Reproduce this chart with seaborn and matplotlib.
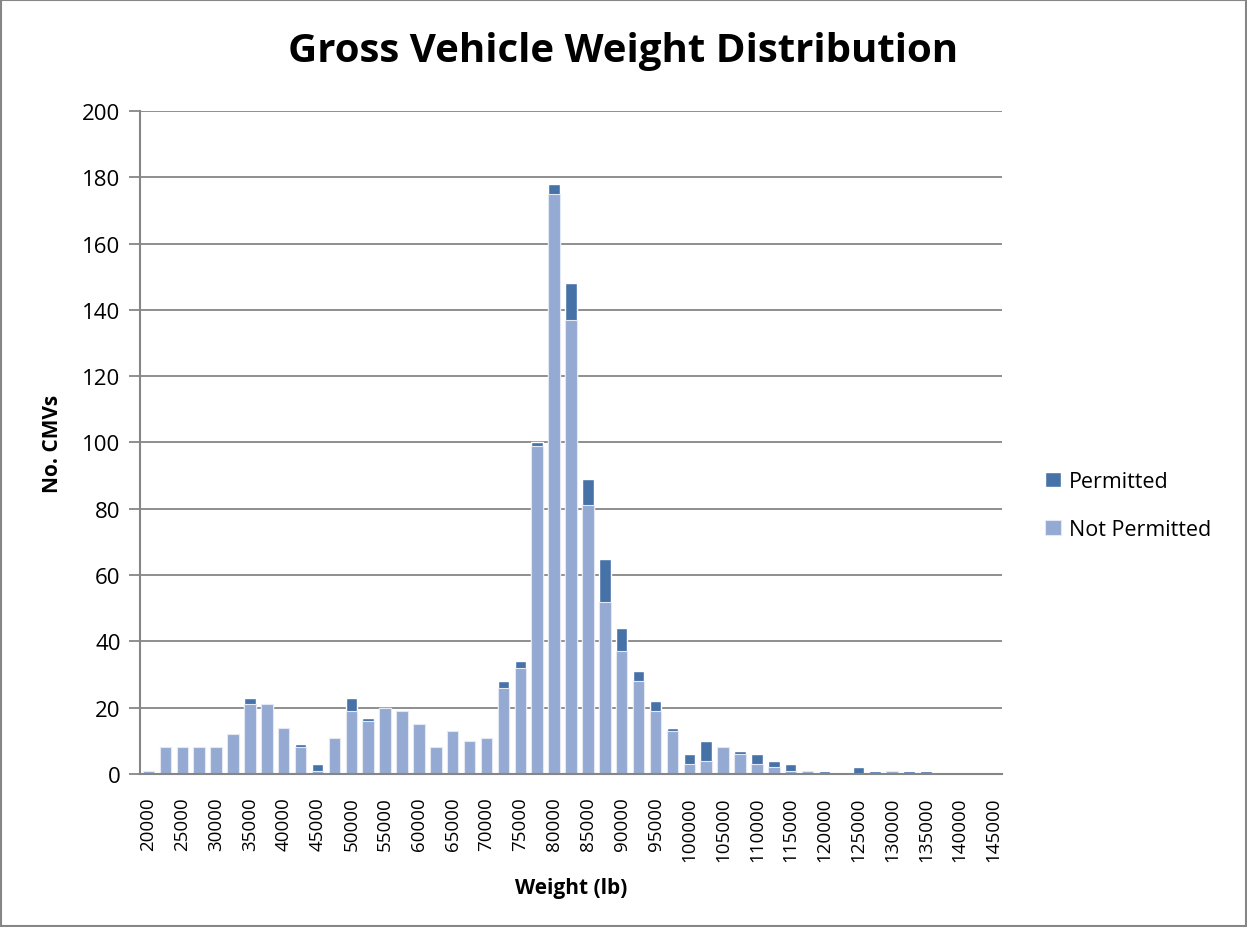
import numpy as np
import pandas as pd
import matplotlib
matplotlib.use("Agg")
import matplotlib.pyplot as plt
import seaborn as sns

# weight bins (lb), 2500 lb steps
weights = [20000 + 2500 * i for i in range(51)]
not_permitted = [1, 8, 8, 8, 8, 12, 21, 21, 14, 8,
                 1, 11, 19, 16, 20, 19, 15, 8, 13, 10,
                 11, 26, 32, 99, 175, 137, 81, 52, 37, 28,
                 19, 13, 3, 4, 8, 6, 3, 2, 1, 1,
                 0, 0, 0, 0, 1, 0, 0, 0, 0, 0, 0]
permitted = [0, 0, 0, 0, 0, 0, 2, 0, 0, 1,
             2, 0, 4, 1, 0, 0, 0, 0, 0, 0,
             0, 2, 2, 1, 3, 11, 8, 13, 7, 3,
             3, 1, 3, 6, 0, 1, 3, 2, 2, 0,
             1, 0, 2, 1, 0, 1, 1, 0, 0, 0, 0]

dark = "#4672a8"
light = "#95aad2"
grey = "#868686"

df = pd.DataFrame({"weight": [str(w) for w in weights],
                   "not_permitted": not_permitted,
                   "permitted": permitted})
df["total"] = df["not_permitted"] + df["permitted"]

sns.set_style("white")
plt.rcParams["font.family"] = ["Open Sans", "DejaVu Sans"]
plt.rcParams["text.color"] = "black"
plt.rcParams["axes.labelcolor"] = "black"
plt.rcParams["xtick.labelcolor"] = "black"
plt.rcParams["ytick.labelcolor"] = "black"

fig = plt.figure(figsize=(12.47, 9.28), dpi=100)
ax = fig.add_axes([0.1123, 0.1649, 0.6912, 0.7144])

sns.barplot(data=df, x="weight", y="total", color=dark, width=0.68,
            saturation=1, ax=ax, label="Permitted")
sns.barplot(data=df, x="weight", y="not_permitted", color=light, width=0.68,
            saturation=1, ax=ax, label="Not Permitted",
            edgecolor="#e3e8f2", linewidth=0.8)

ax.set_xlim(-0.5, len(weights) - 0.5)
ax.set_ylim(0, 200)
ax.set_yticks(range(0, 201, 20))
ax.yaxis.grid(True, color=grey, linewidth=1.3)
ax.set_axisbelow(True)

ax.set_xticks(range(0, len(weights), 2))
ax.set_xticklabels([str(w) for w in weights[::2]], rotation=90, fontsize=13.5)
ax.set_xticks(np.arange(-0.5, len(weights), 1), minor=True)
ax.tick_params(axis="x", which="major", length=0, pad=16)
ax.tick_params(axis="x", which="minor", length=7, width=1.3, color=grey, direction="out")
ax.tick_params(axis="y", length=8, width=1.3, color=grey, direction="out", labelsize=16, pad=6)
ax.tick_params(axis="y", left=True)

for s in ["top", "right"]:
    ax.spines[s].set_visible(False)
for s in ["left", "bottom"]:
    ax.spines[s].set_color(grey)
    ax.spines[s].set_linewidth(1.5)

ax.set_xlabel("Weight (lb)", fontsize=15, fontweight="bold", labelpad=12)
ax.set_ylabel("No. CMVs", fontsize=15, fontweight="bold", labelpad=14)
fig.suptitle("Gross Vehicle Weight Distribution", fontsize=29, fontweight="bold",
             x=0.5, y=0.965)

handles, labels = ax.get_legend_handles_labels()
ax.legend(handles, labels, loc="center left", bbox_to_anchor=(1.028, 0.405),
          frameon=False, fontsize=15.5, handlelength=0.7, handleheight=0.7,
          handletextpad=0.4, labelspacing=1.25)

fig.patches.append(plt.Rectangle((0.0005, 0.001), 0.999, 0.998, transform=fig.transFigure,
                                 fill=False, edgecolor=grey, linewidth=1.5))

fig.savefig("out.png", dpi=100)
